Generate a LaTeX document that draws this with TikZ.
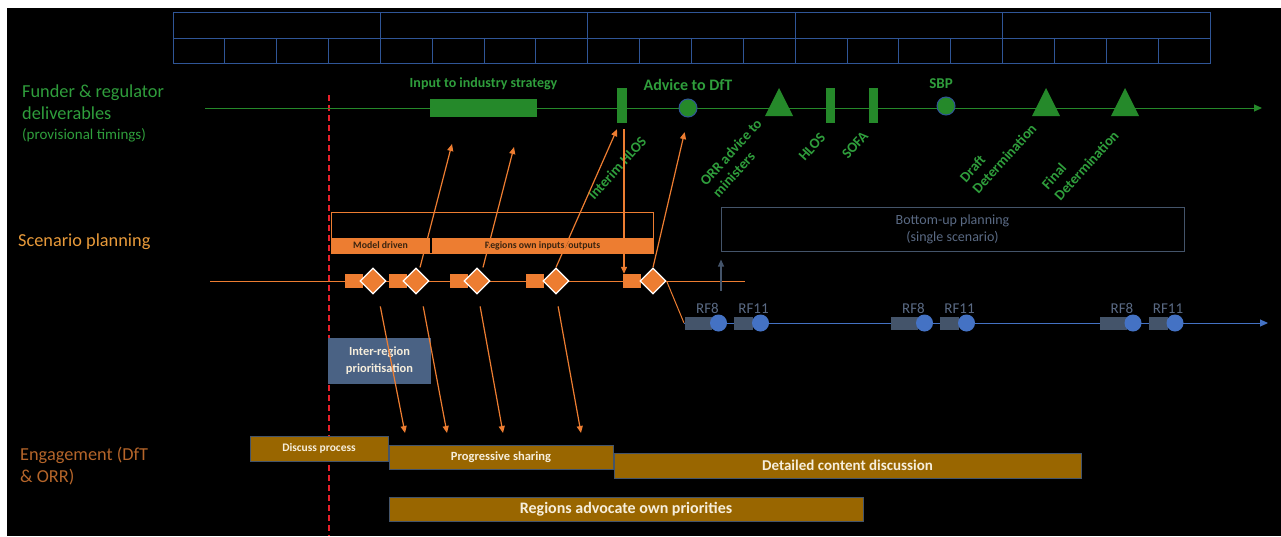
\documentclass[tikz,border=0pt]{standalone}
\usepackage{fontspec}
\setmainfont{Carlito}
\usetikzlibrary{positioning,shapes.geometric,arrows.meta}
\definecolor{GridBlue}{HTML}{2F5597}
\definecolor{DelivGreen}{HTML}{25892A}
\definecolor{LabelGreen}{HTML}{2F9E3C}
\definecolor{ScenOrange}{HTML}{ED7D31}
\definecolor{ScenText}{HTML}{E89A3A}
\definecolor{EngBrown}{HTML}{B5652A}
\definecolor{PhaseText}{HTML}{3A2410}
\definecolor{Ochre}{HTML}{996600}
\definecolor{Cream}{HTML}{F6EEDC}
\definecolor{Slate}{HTML}{44546A}
\definecolor{SlateText}{HTML}{5A6A84}
\definecolor{SteelBox}{HTML}{4A6284}
\definecolor{RFBlue}{HTML}{4472C4}
\definecolor{DashRed}{HTML}{E8202A}

\begin{document}
\begin{tikzpicture}[
    x=1pt, y=-1pt,
    lanelabel/.style={anchor=north west, align=left, inner sep=0pt, font=\fontsize{18.3}{22}\selectfont},
    milestone/.style={inner sep=1pt, font=\bfseries\fontsize{14}{16}\selectfont, text=LabelGreen},
    slanted/.style={milestone, align=left, rotate=48, font=\bfseries\fontsize{14.5}{17}\selectfont},
    deliv/.style={rectangle, fill=DelivGreen, inner sep=0pt},
    dot/.style={circle, fill=DelivGreen, draw=GridBlue, line width=1pt, minimum size=18pt, inner sep=0pt},
    phase/.style={rectangle, fill=ScenOrange, inner sep=0pt, minimum height=15pt, font=\bfseries\fontsize{9.8}{11}\selectfont, text=PhaseText},
    stepblk/.style={rectangle, fill=ScenOrange, minimum width=18pt, minimum height=14pt, inner sep=0pt},
    gate/.style={diamond, fill=ScenOrange, draw=white, line width=1.2pt, minimum size=26pt, inner sep=0pt},
    rfbox/.style={rectangle, fill=Slate, minimum height=13pt, inner sep=0pt},
    rfdot/.style={circle, fill=RFBlue, minimum size=17pt, inner sep=0pt},
    rflabel/.style={inner sep=1pt, font=\fontsize{15}{17}\selectfont, text=SlateText},
    engage/.style={rectangle, fill=Ochre, draw=Slate, line width=0.8pt, inner sep=0pt, text=Cream, font=\bfseries\fontsize{12.5}{14}\selectfont},
    flow/.style={ScenOrange, line width=1.2pt, -{Triangle[length=7pt,width=6pt]}}
  ]
    % Background
    \fill[white] (0,0) rectangle (1281,536);
    \fill[black] (7,8) rectangle (1281,536);
    \useasboundingbox (0,0) rectangle (1281,536);

    % Time grid
    \draw[GridBlue, line width=1pt] (173,12) rectangle (1210,63);
    \draw[GridBlue, line width=1pt] (173,38) -- (1210,38);
    \foreach \i in {1,...,19}
      \draw[GridBlue, line width=1pt] ({173+\i*51.85},38) -- ({173+\i*51.85},63);
    \foreach \i in {1,...,4}
      \draw[GridBlue, line width=1pt] ({173+\i*207.4},12) -- ({173+\i*207.4},38);

    % Today
    \draw[DashRed, line width=1.4pt, dash pattern=on 6pt off 4pt] (329,95) -- (329,536);

    % Lane labels
    \node (funder) [lanelabel, text=LabelGreen] at (22,85) {Funder \& regulator\\deliverables};
    \node (timings) [lanelabel, text=LabelGreen, font=\fontsize{15}{17}\selectfont, below=8pt of funder.south west, anchor=north west] {(provisional timings)};
    \node (scenario) [lanelabel, anchor=west, text=ScenText] at (18,242) {Scenario planning};
    \node (engagement) [lanelabel, text=EngBrown] at (20,447) {Engagement (DfT\\\& ORR)};

    % Funder & regulator line
    \draw[DelivGreen, line width=1pt, -{Triangle[length=8pt,width=7pt]}] (205,108) -- (1262,108);
    \node (strategy) [deliv, minimum width=107pt, minimum height=18pt] at (483.5,108) {};
    \node [milestone, above=8pt of strategy] {Input to industry strategy};
    \node (ihlos) [deliv, minimum width=10pt, minimum height=35pt] at (622,105.5) {};
    \node (hlos) [deliv, minimum width=9pt, minimum height=35pt] at (830,105.5) {};
    \node (sofa) [deliv, minimum width=9pt, minimum height=35pt] at (873,105.5) {};
    \node (dft) [dot] at (688,108) {};
    \node [milestone, font=\bfseries\fontsize{16}{18}\selectfont, above=7pt of dft] {Advice to DfT};
    \node (sbp) [dot] at (946,106) {};
    \node [milestone, font=\bfseries\fontsize{15}{17}\selectfont, above=7pt of sbp, xshift=-5pt] {SBP};
    \foreach \tx in {779,1046,1125}
      \fill[DelivGreen] (\tx,88) -- ++(14,28) -- ++(-28,0) -- cycle;

    % Slanted milestones
    \node [slanted] at (617,168) {Interim HLOS};
    \node [slanted] at (737,158) {ORR advice to\\ministers};
    \node [slanted] at (812,147) {HLOS};
    \node [slanted] at (855,145) {SOFA};
    \node [slanted] at (998,153) {Draft\\Determination};
    \node [slanted] at (1080,160) {Final\\Determination};

    % Scenario planning
    \draw[ScenOrange, line width=1pt] (331,212) rectangle (653,253);
    \node (model) [phase, minimum width=98pt] at (380.5,245.5) {Model driven};
    \node (regions) [phase, minimum width=221pt] at (542.5,245.5) {Regions own inputs/outputs};
    \draw[ScenOrange, line width=1pt] (210,281) -- (745,281);
    \foreach \rx/\dx [count=\k] in {354/373, 398/416, 459/477, 534.5/556, 632/653} {
      \node (blk\k) [stepblk] at (\rx,281) {};
      \node (dia\k) [gate] at (\dx,281) {};
    }

    % Bottom-up planning
    \node (bottomup) [rectangle, draw=Slate, line width=1pt, minimum width=463pt, minimum height=44pt, align=center, text=SlateText, font=\fontsize{14}{17}\selectfont] at (952.5,229) {Bottom-up planning\\(single scenario)};
    \coordinate (upfoot) at (721,291);
    \draw[Slate, line width=1.2pt, -{Triangle[length=7pt,width=6pt]}, shorten >=8pt] (upfoot) -- (upfoot |- bottomup.south);

    % RF timeline
    \coordinate (bstart) at (684,323);
    \draw[RFBlue, line width=1pt, -{Triangle[length=8pt,width=7pt]}] (bstart) -- (1268,323);
    \foreach \gx [count=\g] in {698.5,904.5,1113} {
      \node (rfa\g) [rfbox, minimum width=27pt] at (\gx,323.5) {};
      \node (rfadot\g) [rfdot] at (\gx+20,323) {};
      \node (rfb\g) [rfbox, minimum width=19pt] at (\gx+45,323.5) {};
      \node (rfbdot\g) [rfdot] at (\gx+62,323) {};
      \node [rflabel, above=2pt of rfa\g, xshift=9pt] {RF8};
      \node [rflabel, above=2pt of rfb\g, xshift=10pt] {RF11};
    }
    \draw[ScenOrange, line width=1pt] (dia5.east) -- (bstart);

    % Inter-region
    \node (inter) [rectangle, fill=SteelBox, minimum width=103pt, minimum height=46pt, align=center, text=Cream, font=\bfseries\fontsize{12.4}{17}\selectfont] at (379.5,361) {\rule{0pt}{4pt}Inter-region\\prioritisation};

    % Engagement
    \node (discuss) [engage, minimum width=138pt, minimum height=25pt, font=\bfseries\fontsize{11.5}{13}\selectfont] at (319,448.5) {Discuss process};
    \node (sharing) [engage, minimum width=224pt, minimum height=24pt] at (501,457) {Progressive sharing};
    \node (detailed) [engage, minimum width=467pt, minimum height=25pt, font=\bfseries\fontsize{15}{17}\selectfont] at (847.5,465.5) {Detailed content discussion};
    \node (advocate) [engage, minimum width=474pt, minimum height=24pt, font=\bfseries\fontsize{16}{18}\selectfont] at (626,509) {Regions advocate own priorities};

    % Connections
    \coordinate (up1) at (452,144);
    \coordinate (up2) at (514,147);
    \draw[flow] ([xshift=4pt]dia2.north) -- (up1);
    \draw[flow] ([xshift=6pt]dia3.north) -- (up2);
    \draw[flow] (dia4.north) -- ([xshift=-5pt,yshift=-6pt]ihlos.south);
    \draw[flow, shorten >=15pt] (dia5.north) -- (dft.south);
    \draw[flow] ([xshift=2pt,yshift=-6pt]ihlos.south) -- ([xshift=2pt]ihlos.south |- blk5.north);
    \foreach \ox/\tx [count=\k] in {5/405,5/447,1/503,0/581} {
      \coordinate (dn\k) at (\tx,433);
      \draw[flow, shorten <=12pt] ([xshift=\ox pt]dia\k.south) -- (dn\k);
    }
  \end{tikzpicture}
\end{document}
